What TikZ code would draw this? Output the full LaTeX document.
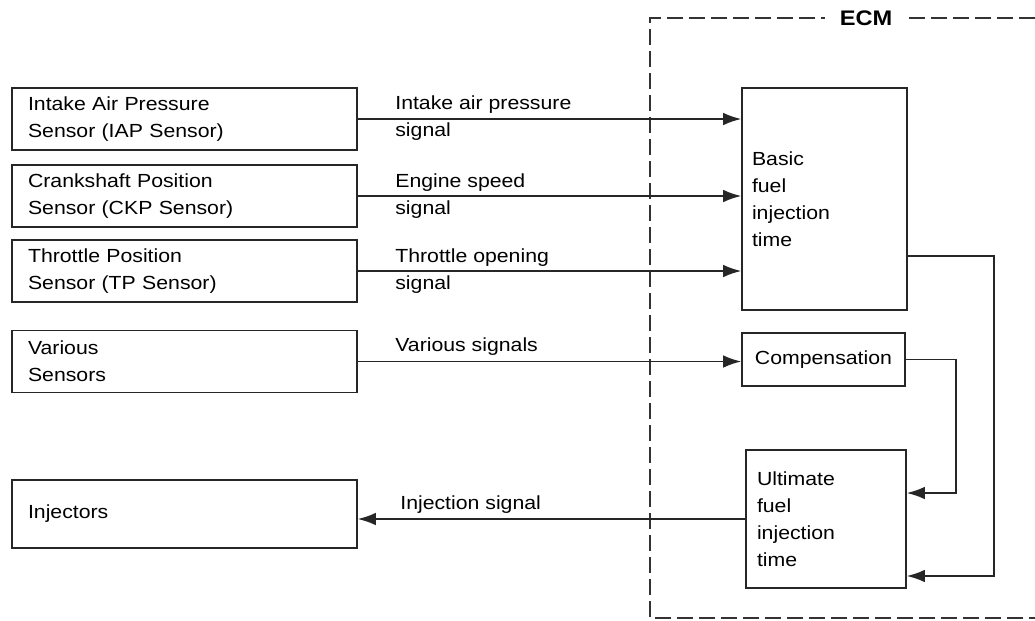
\documentclass[tikz,border=0pt]{standalone}
\usepackage{fontspec}
\setmainfont{Liberation Sans}[FakeStretch=1.12]
\usetikzlibrary{arrows.meta, calc}

\begin{document}
\begin{tikzpicture}[
				x=0.02cm, y=-0.02cm,
				>={Latex[length=0.36cm, width=0.25cm]},
				txt/.style={font=\fontsize{10.8}{15.4}\selectfont},
				sensor/.style={txt, rectangle, draw=black!85, line width=0.9pt, minimum width=6.9cm, minimum height=1.24cm, inner xsep=0.32cm, text width=6.26cm, align=left},
				ecmbox/.style={txt, rectangle, draw=black!85, line width=0.9pt, inner xsep=0.2cm, align=left},
				siglabel/.style={txt, anchor=west, align=left, inner sep=0pt},
				arr/.style={->, black!85, line width=0.9pt},
				ecmline/.style={black!80, line width=1pt, dash pattern=on 0.32cm off 0.12cm}
			]

			\useasboundingbox (0,0) rectangle (1035,620);

			% ECM frame
			\draw[ecmline] (1035,18) -- (650,18) -- (650,618) -- (1035,618);
			\node[txt, fill=white, inner xsep=0.3cm, font=\bfseries\fontsize{12}{14}\selectfont] (ecm) at (866,18) {ECM};

			% Sensors
			\node[sensor] (iap) at (184.5,119) {Intake Air Pressure\\Sensor (IAP Sensor)};
			\node[sensor] (ckp) at (184.5,196) {Crankshaft Position\\Sensor (CKP Sensor)};
			\node[sensor] (tp) at (184.5,271) {Throttle Position\\Sensor (TP Sensor)};
			\node[sensor] (var) at (184.5,361.5) {Various\\Sensors};
			\node[sensor, minimum height=1.36cm] (inj) at (184.5,514) {Injectors};

			% ECM blocks
			\node[ecmbox, minimum width=3.3cm, minimum height=4.44cm, text width=2.9cm] (basic) at (824.5,199) {Basic\\fuel\\injection\\time};
			\node[ecmbox, minimum width=3.26cm, minimum height=1.06cm, align=center] (comp) at (823.5,359.5) {Compensation};
			\node[ecmbox, minimum width=3.2cm, minimum height=2.76cm, text width=2.76cm] (ult) at (826,519) {Ultimate\\fuel\\injection\\time};

			% Signals
			\draw[arr] (iap.east) -- (iap.east -| basic.west);
			\draw[arr] (ckp.east) -- (ckp.east -| basic.west);
			\draw[arr] (tp.east) -- (tp.east -| basic.west);
			\draw[arr] (var.east) -- (var.east -| comp.west);
			\draw[arr] (ult.west) -- (ult.west -| inj.east);
			\node[siglabel] at (395,118) {Intake air pressure\\signal};
			\node[siglabel] at (395,196) {Engine speed\\signal};
			\node[siglabel] at (395,271) {Throttle opening\\signal};
			\node[siglabel, anchor=south west, inner ysep=3pt] at (395,361.5) {Various signals};
			\node[siglabel, anchor=south west, inner ysep=3pt] at (400,519) {Injection signal};

			% Feedback into ultimate time
			\draw[arr] (comp.east) -- ++(50,0) |- ([yshift=0.52cm]ult.east);
			\draw[arr] ([yshift=-1.14cm]basic.east) -- ++(86,0) |- ([yshift=-1.14cm]ult.east);

		\end{tikzpicture}
\end{document}
